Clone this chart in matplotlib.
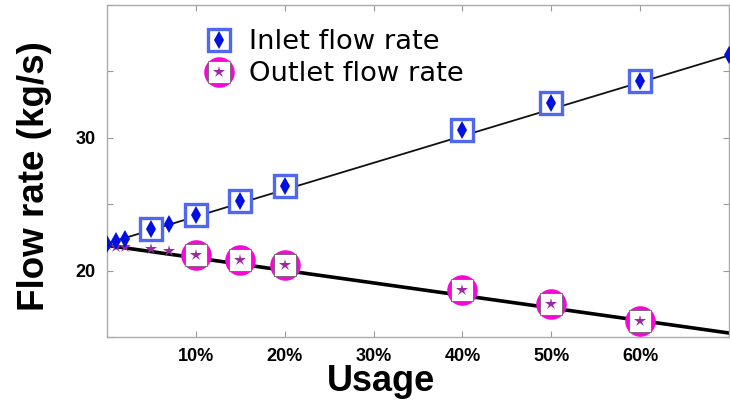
import matplotlib
matplotlib.use("Agg")
import matplotlib.pyplot as plt
from matplotlib.lines import Line2D
from matplotlib.legend_handler import HandlerTuple

# Дані (частка використання -> витрата, кг/с)
inlet_x = [0.0, 0.01, 0.02, 0.05, 0.07, 0.10, 0.15, 0.20, 0.40, 0.50, 0.60, 0.70]
inlet_y = [22.0, 22.2, 22.4, 23.1, 23.5, 24.2, 25.25, 26.4, 30.6, 32.6, 34.3, 36.2]
inlet_box_x = [0.05, 0.10, 0.15, 0.20, 0.40, 0.50, 0.60]
inlet_box_y = [23.1, 24.2, 25.25, 26.4, 30.6, 32.6, 34.3]

outlet_x = [0.0, 0.01, 0.02, 0.05, 0.07, 0.10, 0.15, 0.20, 0.40, 0.50, 0.60]
outlet_y = [21.9, 21.8, 21.75, 21.6, 21.5, 21.2, 20.8, 20.4, 18.55, 17.5, 16.2]
outlet_ring_x = [0.10, 0.15, 0.20, 0.40, 0.50, 0.60]
outlet_ring_y = [21.2, 20.8, 20.4, 18.55, 17.5, 16.2]

fit_x = [0.0, 0.70]
inlet_fit = [22.05, 36.2]
outlet_fit = [21.9, 15.3]

x_ticks = [0.1, 0.2, 0.3, 0.4, 0.5, 0.6, 0.7]
x_labels = ["10%", "20%", "30%", "40%", "50%", "60%", ""]
y_ticks = [15, 20, 25, 30, 35, 40]
y_labels = ["", "20", "", "30", "", ""]

BOX = "#5068f0"
DIAM = "#0010e0"
RING = "#f40ad4"
STAR = "#9a2aa0"

fig = plt.figure(figsize=(7.3, 4.04), dpi=100)
ax = fig.add_axes([107 / 730, 67 / 404, 622 / 730, 332 / 404])

# Лінії апроксимації
ax.plot(fit_x, inlet_fit, color="#111111", lw=1.3, zorder=2)
ax.plot(fit_x, outlet_fit, color="black", lw=2.6, zorder=2)

# Вихідний потік: кільця з білим квадратом + зірочки
ax.plot(outlet_ring_x, outlet_ring_y, "o", ms=22, mfc=RING, mec=RING, mew=0, zorder=3)
ax.plot(outlet_ring_x, outlet_ring_y, "s", ms=16.5, mfc="white", mec="#555555", mew=0.5, zorder=4)
ax.plot(outlet_x, outlet_y, "*", ms=9, color=STAR, mew=0, zorder=5)

# Вхідний потік: квадрати + ромби
ax.plot(inlet_box_x, inlet_box_y, "s", ms=16.5, mfc="white", mec=BOX, mew=2.4, zorder=3)
ax.plot(inlet_x, inlet_y, "d", ms=9, color=DIAM, mew=0, zorder=5)

ax.set_xlim(0, 0.70)
ax.set_ylim(15, 40)
ax.set_xticks(x_ticks)
ax.set_xticklabels(x_labels)
ax.set_yticks(y_ticks)
ax.set_yticklabels(y_labels)
ax.tick_params(direction="in", length=4, width=0.8, color="#999999",
               top=True, right=True, labelsize=13, pad=8)
for lab in ax.get_xticklabels() + ax.get_yticklabels():
    lab.set_fontweight("bold")
    lab.set_family("Liberation Sans")
for sp in ax.spines.values():
    sp.set_color("#aaaaaa")
    sp.set_linewidth(1.0)

ax.set_xlabel("Usage", fontsize=26, fontweight="bold", family="Liberation Sans")
ax.xaxis.set_label_coords(0.44, -0.08)
ax.set_ylabel("Flow rate (kg/s)", fontsize=26.5, fontweight="bold", family="Liberation Sans")
ax.yaxis.set_label_coords(-0.088, 0.485)

# Легенда
h_in = (Line2D([], [], ls="", marker="s", ms=16.5, mfc="white", mec=BOX, mew=2.4),
        Line2D([], [], ls="", marker="d", ms=9, color=DIAM, mew=0))
h_out = (Line2D([], [], ls="", marker="o", ms=22, mfc=RING, mec=RING, mew=0),
         Line2D([], [], ls="", marker="s", ms=16.5, mfc="white", mec="#555555", mew=0.5),
         Line2D([], [], ls="", marker="*", ms=9, color=STAR, mew=0))
ax.legend([h_in, h_out], ["Inlet flow rate", "Outlet flow rate"],
          handler_map={tuple: HandlerTuple(ndivide=1)},
          loc="upper left", bbox_to_anchor=(0.134, 0.96), frameon=False,
          prop={"family": "DejaVu Sans", "size": 19.7}, handlelength=1.3,
          handletextpad=0.45, labelspacing=0.22, borderaxespad=0)

fig.savefig("out.png", dpi=100)
